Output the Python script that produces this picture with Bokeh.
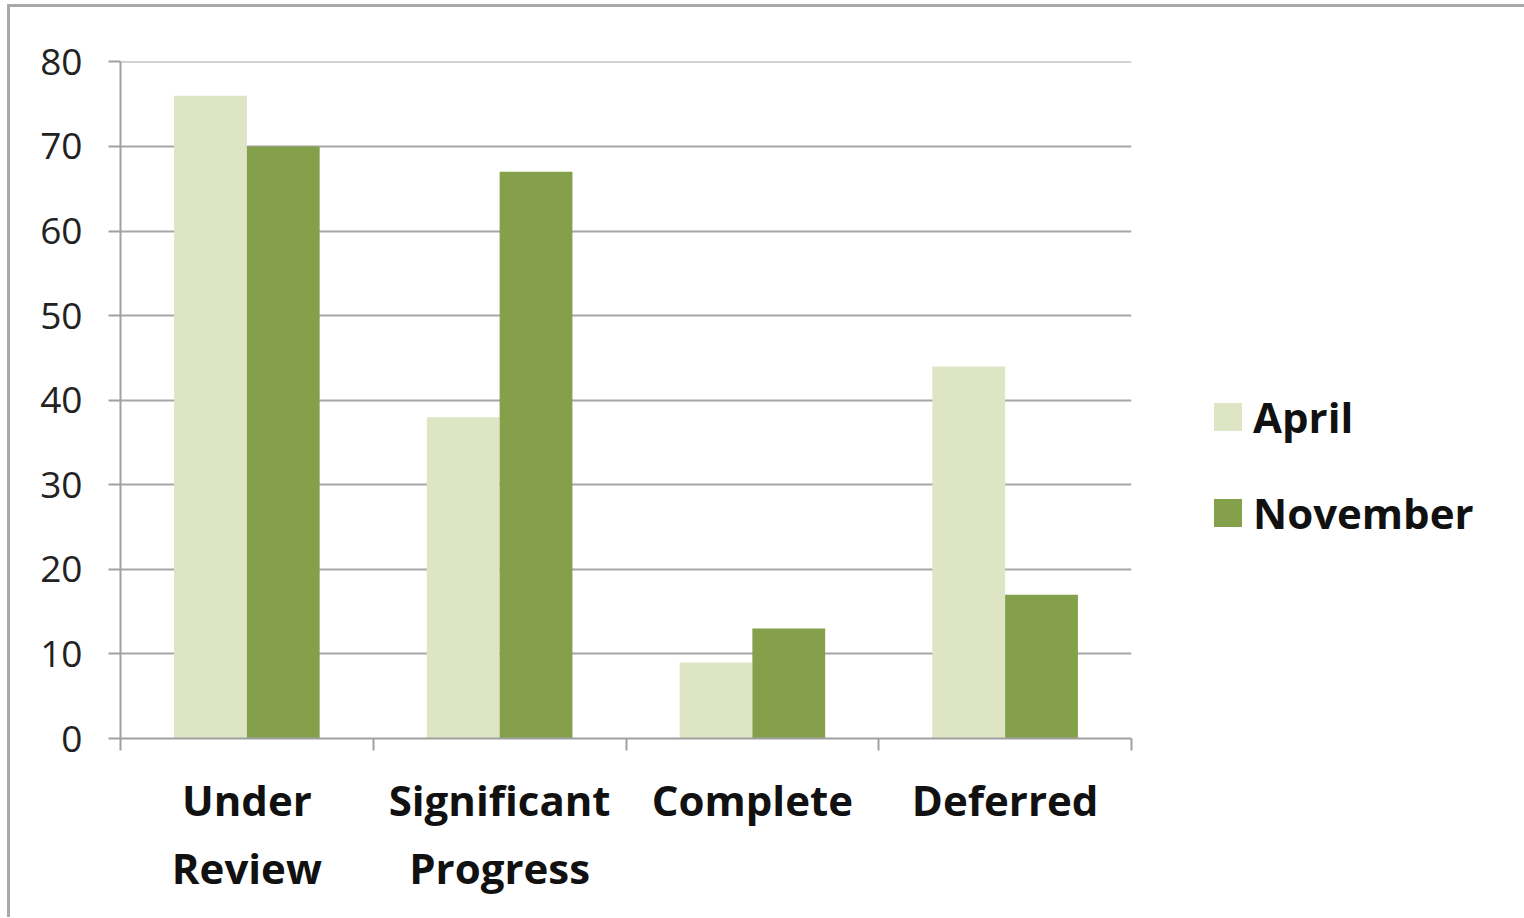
import numpy as np
from bokeh.plotting import figure
from bokeh.layouts import row
from bokeh.models import ColumnDataSource, FixedTicker, Range1d, Legend, LegendItem
from bokeh.embed import file_html
from bokeh.resources import INLINE

categories = ["Under Review", "Significant Progress", "Complete", "Deferred"]
category_labels = ["Under\nReview", "Significant\nProgress", "Complete", "Deferred"]
series_names = ["April", "November"]
april = [76, 38, 9, 44]
november = [70, 67, 13, 17]
y_ticks = [0, 10, 20, 30, 40, 50, 60, 70, 80]

colors = ["#dde5c4", "#84a04a"]
font = "Open Sans"

centers = np.arange(len(categories)) + 0.5
bar_w = 0.288
offsets = [-0.144, 0.144]

p = figure(width=1150, height=910, output_backend="svg", toolbar_location=None,
           x_range=Range1d(0, len(categories)), y_range=Range1d(0, 80.05),
           min_border_left=110, min_border_right=29, min_border_top=54, min_border_bottom=179)
p.outline_line_color = None

renderers = []
for vals, off, col in zip([april, november], offsets, colors):
    src = ColumnDataSource(dict(x=centers + off, top=vals, cat=categories))
    r = p.vbar(x="x", top="top", width=bar_w, bottom=0, source=src,
               fill_color=col, line_color=None)
    renderers.append(r)

# x axis
p.xaxis.ticker = FixedTicker(ticks=list(centers), minor_ticks=list(range(len(categories) + 1)))
p.xaxis.major_label_overrides = {float(c): lab for c, lab in zip(centers, category_labels)}
p.xaxis.major_tick_out = 0
p.xaxis.major_tick_in = 0
p.xaxis.minor_tick_out = 12
p.xaxis.minor_tick_in = 0
p.xaxis.minor_tick_line_color = "#a0a0a0"
p.xaxis.minor_tick_line_width = 2
p.xaxis.axis_line_color = "#a0a0a0"
p.xaxis.axis_line_width = 2
p.xaxis.major_label_text_font = font
p.xaxis.major_label_text_font_style = "bold"
p.xaxis.major_label_text_font_size = "42px"
p.xaxis.major_label_text_color = "#111111"
p.xaxis.major_label_standoff = 20
p.xgrid.grid_line_color = None

# y axis
p.yaxis.ticker = FixedTicker(ticks=y_ticks, minor_ticks=[])
p.yaxis.major_tick_out = 12
p.yaxis.major_tick_in = 0
p.yaxis.major_tick_line_color = "#a0a0a0"
p.yaxis.major_tick_line_width = 2
p.yaxis.axis_line_color = "#a0a0a0"
p.yaxis.axis_line_width = 2
p.yaxis.major_label_text_font = font
p.yaxis.major_label_text_font_size = "37px"
p.yaxis.major_label_text_color = "#222222"
p.yaxis.major_label_standoff = 26
p.ygrid.grid_line_color = "#a6a6a6"
p.ygrid.grid_line_width = 2

# legend panel (swatches drawn from stand-in bars placed outside its view)
p2 = figure(width=364, height=910, output_backend="svg", toolbar_location=None,
            x_range=Range1d(0, 1), y_range=Range1d(0, 1),
            min_border_left=0, min_border_right=0, min_border_top=0, min_border_bottom=0)
p2.axis.visible = False
p2.grid.visible = False
p2.outline_line_color = None
leg_renderers = [p2.vbar(x=[-5], top=[-5], bottom=[-6], width=0.1, fill_color=col, line_color=None)
                 for col in colors]
legend = Legend(items=[LegendItem(label=n, renderers=[r]) for n, r in zip(series_names, leg_renderers)],
                location=(50, 197), glyph_width=35, glyph_height=35, label_height=42,
                spacing=39, padding=0, margin=0, label_standoff=8,
                label_text_font=font, label_text_font_style="bold", label_text_font_size="42px",
                label_text_color="#111111", border_line_color=None, background_fill_alpha=0)
p2.add_layout(legend, "center")

layout = row(p, p2, spacing=0,
             styles={"border-top": "3px solid #a9a9a9", "border-left": "3px solid #a9a9a9",
                     "margin-left": "7px", "margin-top": "4px"})

open("out.html", "w").write(file_html(layout, INLINE))
